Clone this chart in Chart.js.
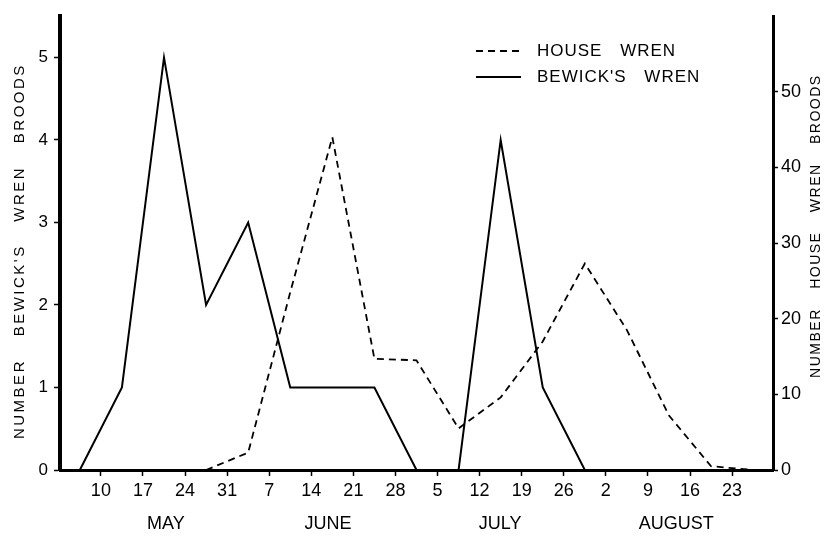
<!DOCTYPE html>
<html><head><meta charset="utf-8">
<script src="https://cdn.jsdelivr.net/npm/chart.js@4.4.1/dist/chart.umd.min.js"></script>
<style>html,body{margin:0;padding:0;background:#fff}#wrap{width:839px;height:536px}</style>
</head><body><div id="wrap"><canvas id="c" width="839" height="536"></canvas></div>
<script>
// Days counted from May 1 (May 1 = 0)
const weekDays        = [5.5, 12.5, 19.5, 26.5, 33.5, 40.5, 47.5, 54.5, 61.5, 68.5, 75.5, 82.5, 89.5, 96.5, 103.5, 110.5, 117.5];
const bewickBroods    = [0,   1,    5,    2,    3,    1,    1,    1,    0,    0,    4,    1,    0,    0,    0,     0,     0];
const houseWrenBroods = [null,null, null, 0,    2.3,  23.5, 44,   14.7, 14.5, 5.5,  9.6,  17,   27.3, 18.5, 7.2,   0.5,   0];

const dateTickDays   = [9, 16, 23, 30, 37, 44, 51, 58, 65, 72, 79, 86, 93, 100, 107, 114];
const dateTickLabels = ['10','17','24','31','7','14','21','28','5','12','19','26','2','9','16','23'];
const monthDays   = [19.8, 46.8, 75.4, 104.7];
const monthLabels = ['MAY', 'JUNE', 'JULY', 'AUGUST'];
const leftTicks  = [0, 1, 2, 3, 4, 5];
const rightTicks = [0, 10, 20, 30, 40, 50];
const seriesNames = ['HOUSE WREN', "BEWICK'S WREN"];
const leftTitle  = "NUMBER BEWICK'S WREN BROODS";
const rightTitle = 'NUMBER HOUSE WREN BROODS';

const FONT = '"Liberation Sans", Arial, sans-serif';

const annot = {
  id: 'annot',
  afterDraw(chart) {
    const ctx = chart.ctx;
    const ca = chart.chartArea;
    ctx.save();
    ctx.fillStyle = '#000';
    ctx.textBaseline = 'middle';
    // legend
    ctx.font = '17px ' + FONT;
    ctx.letterSpacing = '1px';
    ctx.wordSpacing = '12px';
    const rowsY = [51, 77];
    chart.data.datasets.forEach((d, i) => {
      const y = rowsY[i];
      ctx.beginPath();
      ctx.setLineDash(d.borderDash || []);
      ctx.lineWidth = d.borderWidth;
      ctx.strokeStyle = d.borderColor;
      ctx.moveTo(476, y); ctx.lineTo(521, y); ctx.stroke();
      ctx.setLineDash([]);
      ctx.textAlign = 'left';
      ctx.fillText(d.label, 537, y);
    });
    // axis titles
    ctx.textAlign = 'center';
    const cy = (ca.top + ca.bottom) / 2;
    ctx.save();
    ctx.font = '15px ' + FONT;
    ctx.letterSpacing = '2.5px';
    ctx.wordSpacing = '16px';
    ctx.translate(20, cy + 8);
    ctx.rotate(-Math.PI / 2);
    ctx.fillText(leftTitle, 0, 0);
    ctx.restore();
    ctx.save();
    ctx.font = '14px ' + FONT;
    ctx.letterSpacing = '1.5px';
    ctx.wordSpacing = '14px';
    ctx.translate(816, cy - 17);
    ctx.rotate(-Math.PI / 2);
    ctx.fillText(rightTitle, 0, 0);
    ctx.restore();
    ctx.restore();
  }
};

new Chart(document.getElementById('c'), {
  type: 'line',
  data: {
    datasets: [
      {
        label: seriesNames[0],
        data: weekDays.map((d, i) => ({ x: d, y: houseWrenBroods[i] })),
        yAxisID: 'y2',
        borderColor: '#000',
        borderWidth: 1.8,
        borderDash: [7, 5],
        pointRadius: 0,
        tension: 0,
        fill: false
      },
      {
        label: seriesNames[1],
        data: weekDays.map((d, i) => ({ x: d, y: bewickBroods[i] })),
        yAxisID: 'y',
        borderColor: '#000',
        borderWidth: 2,
        pointRadius: 0,
        tension: 0,
        fill: false
      }
    ]
  },
  options: {
    responsive: false,
    animation: false,
    devicePixelRatio: 1,
    layout: { padding: { top: 15, left: 0, right: 0, bottom: 0 } },
    plugins: { legend: { display: false }, tooltip: { enabled: false } },
    scales: {
      x: {
        type: 'linear', position: 'bottom', weight: 0,
        min: 2.2, max: 120.8,
        afterBuildTicks: s => { s.ticks = dateTickDays.map(v => ({ value: v })); },
        afterFit: s => { s.height = 36; },
        ticks: {
          callback: (v, i) => dateTickLabels[i],
          autoSkip: false, maxRotation: 0, minRotation: 0,
          color: '#000', font: { family: FONT, size: 18 }, padding: 4
        },
        grid: { display: true, drawOnChartArea: false, drawTicks: true, tickLength: 6, tickWidth: 1.5, tickColor: '#000' },
        border: { display: true, width: 3, color: '#000' }
      },
      x2: {
        type: 'linear', position: 'bottom', weight: 1,
        min: 2.2, max: 120.8,
        afterBuildTicks: s => { s.ticks = monthDays.map(v => ({ value: v })); },
        afterFit: s => { s.height = 30; },
        ticks: {
          callback: (v, i) => monthLabels[i],
          autoSkip: false, maxRotation: 0, minRotation: 0,
          color: '#000', font: { family: FONT, size: 18 }, padding: 7
        },
        grid: { display: false, drawTicks: false },
        border: { display: false }
      },
      y: {
        type: 'linear', position: 'left',
        min: 0, max: 5.5,
        afterBuildTicks: s => { s.ticks = leftTicks.map(v => ({ value: v })); },
        afterFit: s => { s.width = 60; },
        ticks: { color: '#000', font: { family: FONT, size: 17 }, padding: 6 },
        grid: { display: true, drawOnChartArea: false, drawTicks: true, tickLength: 6, tickWidth: 1.5, tickColor: '#000' },
        border: { display: true, width: 4, color: '#000' }
      },
      y2: {
        type: 'linear', position: 'right',
        min: 0, max: 60,
        afterBuildTicks: s => { s.ticks = rightTicks.map(v => ({ value: v })); },
        afterFit: s => { s.width = 66; },
        ticks: { color: '#000', font: { family: FONT, size: 18 }, padding: 3 },
        grid: { display: true, drawOnChartArea: false, drawTicks: true, tickLength: 5, tickWidth: 1.5, tickColor: '#000' },
        border: { display: true, width: 3, color: '#000' }
      }
    }
  },
  plugins: [annot]
});
</script>
</body></html>
